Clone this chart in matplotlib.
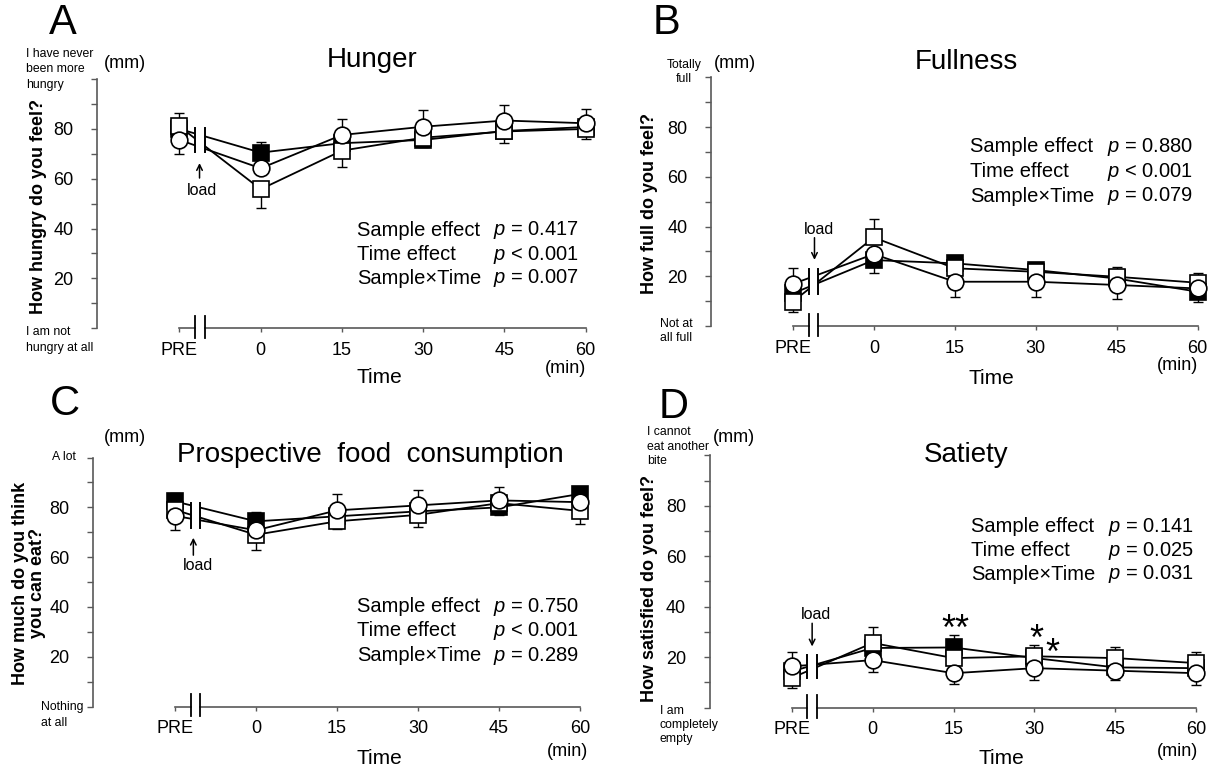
import numpy as np
import matplotlib
matplotlib.use("Agg")
import matplotlib.pyplot as plt
from matplotlib.patches import Rectangle

plt.rcParams['font.family'] = ['Liberation Sans', 'DejaVu Sans']
plt.rcParams['mathtext.fontset'] = 'custom'
plt.rcParams['mathtext.it'] = 'Liberation Sans:italic'
plt.rcParams['mathtext.rm'] = 'Liberation Sans'

# time points (PRE drawn one step before 0)
times = [-15, 0, 15, 30, 45, 60]
time_labels = ['PRE', '0', '15', '30', '45', '60']

# Hunger
hunger_open = [81, 55.8, 71.3, 76.5, 79, 80.0]
hunger_filled = [80, 70.5, 74.3, 75.6, 79.2, 80.8]
hunger_circle = [75.6, 64.2, 77.6, 80.9, 83.4, 82.3]
hunger_open_sd = [5.3, 7.7, 6.5, 5.0, 4.5, 4.2]
hunger_filled_sd = [5.0, 4.2, 6.0, 2.9, 5.0, 5.0]
hunger_circle_sd = [5.6, 6.0, 6.4, 6.7, 6.1, 5.8]
hunger_stats = ['= 0.417', '< 0.001', '= 0.007']

# Fullness
full_open = [9.8, 35.6, 23.2, 21.8, 19.8, 17.4]
full_filled = [13.1, 26.5, 25.2, 22.5, 19.1, 13.8]
full_circle = [16.9, 28.9, 17.8, 17.8, 16.5, 15.1]
full_open_sd = [4.0, 7.4, 4.0, 3.5, 4.0, 3.8]
full_filled_sd = [4.0, 5.3, 2.9, 2.7, 4.0, 4.0]
full_circle_sd = [6.5, 5.0, 6.0, 6.0, 5.7, 5.0]
full_stats = ['= 0.880', '< 0.001', '= 0.079']

# Prospective food consumption
pfc_open = [79, 69, 74.4, 77, 81.7, 78.6]
pfc_filled = [82.4, 74.4, 76.4, 78.4, 80, 85.4]
pfc_circle = [76.6, 70.8, 78.8, 80.8, 82.8, 82.1]
pfc_open_sd = [4.0, 6.2, 3.1, 4.9, 4.0, 5.3]
pfc_filled_sd = [3.3, 3.6, 4.0, 4.0, 3.0, 2.0]
pfc_circle_sd = [5.6, 5.0, 6.6, 6.0, 5.2, 5.0]
pfc_stats = ['= 0.750', '< 0.001', '= 0.289']

# Satiety
sat_open = [11.7, 25.6, 19.6, 20.3, 19.6, 17.6]
sat_filled = [14.3, 23.6, 23.8, 19.6, 15.9, 15.6]
sat_circle = [16.3, 18.8, 13.6, 15.6, 14.6, 13.6]
sat_open_sd = [4.0, 6.2, 4.0, 4.6, 4.2, 4.3]
sat_filled_sd = [4.0, 4.0, 4.8, 4.0, 4.0, 4.0]
sat_circle_sd = [5.6, 4.8, 4.3, 4.6, 3.6, 4.6]
sat_stats = ['= 0.141', '= 0.025', '= 0.031']
sat_signif = [(15.3, 30.5, '**'), (30.3, 26.5, '*'), (33.4, 21.2, '*')]

stat_names = ['Sample effect', 'Time effect', 'Sample×Time']

W, H = 1220, 771
GRAY = '#595959'
BREAK = (-12.1, -10.3)
SMALL = 8.8


def fx(x):
    return x / W


def fy(y):
    return 1 - y / H


fig = plt.figure(figsize=(12.2, 7.71), dpi=100)


def draw_panel(rect, series, sds, break_span, load_txt, load_arrow):
    ax = fig.add_axes(rect)
    vals = np.array(series)
    sd = np.array(sds)
    top = np.argmax(vals, axis=0)
    bot = np.argmin(vals, axis=0)
    t = np.array(times)

    # series order in lists: open square, filled square, circle
    styles = {1: dict(marker='s', ms=11, mfc='black', z=3),
              0: dict(marker='s', ms=11, mfc='white', z=4),
              2: dict(marker='o', ms=12, mfc='white', z=5)}
    for i in [1, 0, 2]:
        st = styles[i]
        up = np.where(top == i, sd[i], 0)
        lo = np.where(bot == i, sd[i], 0)
        m = (up > 0) | (lo > 0)
        if m.any():
            ax.errorbar(t[m], vals[i][m], yerr=[lo[m], up[m]], fmt='none',
                        ecolor='black', elinewidth=1, capsize=3.5, capthick=1,
                        zorder=2, clip_on=False)
        ax.plot(t, vals[i], color='black', lw=1.3, marker=st['marker'],
                ms=st['ms'], mfc=st['mfc'], mec='black', mew=1.2,
                zorder=st['z'], clip_on=False)

    # break in the data lines
    y0, y1 = break_span
    ax.add_patch(Rectangle((BREAK[0], y0), BREAK[1] - BREAK[0], y1 - y0,
                           facecolor='white', edgecolor='none', zorder=8))
    for bx in BREAK:
        ax.plot([bx, bx], [y0, y1], color='black', lw=1.4, zorder=9,
                clip_on=False)

    # x axis drawn by hand with a break
    ax.plot([-15, BREAK[0]], [0, 0], color=GRAY, lw=1.2, clip_on=False)
    ax.plot([BREAK[1], 60], [0, 0], color=GRAY, lw=1.2, clip_on=False)
    for bx in BREAK:
        ax.plot([bx, bx], [-4, 5], color='black', lw=1.3, clip_on=False)

    # load marker
    ax.text(load_txt[0], load_txt[1], 'load', ha='center', va='center',
            fontsize=11.5)
    ax.annotate('', xy=(load_arrow[0], load_arrow[2]),
                xytext=(load_arrow[0], load_arrow[1]),
                arrowprops=dict(arrowstyle='->', lw=1.1, color='black',
                                shrinkA=0, shrinkB=0))

    ax.set_xlim(-30.2, 63)
    ax.set_ylim(0, 100)
    for s in ['top', 'right', 'bottom']:
        ax.spines[s].set_visible(False)
    ax.spines['left'].set_color(GRAY)
    ax.spines['left'].set_linewidth(1.2)
    ax.set_yticks([0, 20, 40, 60, 80, 100], ['', '20', '40', '60', '80', ''])
    ax.set_yticks([10, 30, 50, 70, 90], minor=True)
    ax.tick_params(axis='y', which='both', direction='out', length=4,
                   width=1, color=GRAY, pad=13, labelsize=13)
    ax.set_xticks(times, time_labels)
    ax.tick_params(axis='x', direction='out', length=3, width=1, color=GRAY,
                   pad=7, labelsize=13)
    ax.patch.set_visible(False)
    return ax


def ptext(x, y, s, **kw):
    fig.text(fx(x), fy(y), s, **kw)


def anchor(x, y, s, ha='left', ls=1.3):
    ptext(x, y, s, ha=ha, va='center', fontsize=SMALL, linespacing=ls,
          multialignment=ha)


def stats_block(x_name, x_p, ys, values):
    for name, v, y in zip(stat_names, values, ys):
        ptext(x_name, y, name, ha='left', va='center', fontsize=14.5)
        ptext(x_p, y, '$p$ ' + v, ha='left', va='center', fontsize=14.5)


# Panel A
axA = draw_panel([fx(97.2), fy(328.1), (601.8 - 97.2) / W, (328.1 - 79.2) / H],
                 [hunger_open, hunger_filled, hunger_circle],
                 [hunger_open_sd, hunger_filled_sd, hunger_circle_sd],
                 (70.6, 80.3), (-10.9, 55.2), (-11.3, 60.3, 66.3))
ptext(63, 23, 'A', ha='center', va='center', fontsize=30)
ptext(372, 60, 'Hunger', ha='center', va='center', fontsize=20)
ptext(124.5, 63, '(mm)', ha='center', va='center', fontsize=13)
anchor(26.5, 69.5, 'I have never\nbeen more\nhungry', ls=1.4)
anchor(26.5, 340, 'I am not\nhungry at all', ls=1.45)
ptext(39, 207, 'How hungry do you feel?', ha='center', va='center',
      rotation=90, fontsize=13, fontweight='bold')
stats_block(357, 493, [230, 255, 278], hunger_stats)
ptext(379, 377, 'Time', ha='center', va='center', fontsize=15)
ptext(566, 368, '(min)', ha='center', va='center', fontsize=13)

# Panel B
axB = draw_panel([fx(710.9), fy(326.0), (1213.7 - 710.9) / W, (326.0 - 77.3) / H],
                 [full_open, full_filled, full_circle],
                 [full_open_sd, full_filled_sd, full_circle_sd],
                 (12.9, 22.8), (-10.1, 38.7), (-11.0, 35.5, 26.6))
ptext(666, 23, 'B', ha='center', va='center', fontsize=30)
ptext(966, 62, 'Fullness', ha='center', va='center', fontsize=20)
ptext(734.5, 63, '(mm)', ha='center', va='center', fontsize=13)
anchor(684, 72, 'Totally\nfull', ha='center', ls=1.2)
anchor(676, 331, 'Not at\nall full', ha='center', ls=1.3)
ptext(649, 204, 'How full do you feel?', ha='center', va='center',
      rotation=90, fontsize=13, fontweight='bold')
stats_block(970, 1107, [146.7, 171.7, 196], full_stats)
ptext(991, 378, 'Time', ha='center', va='center', fontsize=15)
ptext(1178, 365, '(min)', ha='center', va='center', fontsize=13)

# Panel C
axC = draw_panel([fx(92.9), fy(706.5), (596.2 - 92.9) / W, (706.5 - 457.6) / H],
                 [pfc_open, pfc_filled, pfc_circle],
                 [pfc_open_sd, pfc_filled_sd, pfc_circle_sd],
                 (71.7, 81.7), (-10.7, 56.8), (-11.6, 60.8, 67.8))
ptext(65, 404, 'C', ha='center', va='center', fontsize=30)
ptext(370, 455, 'Prospective  food  consumption', ha='center', va='center',
      fontsize=20)
ptext(124.5, 438, '(mm)', ha='center', va='center', fontsize=13)
anchor(64, 457, 'A lot', ha='center')
anchor(41, 715, 'Nothing\nat all', ls=1.45)
ptext(29, 583, 'How much do you think\nyou can eat?', ha='center',
      va='center', rotation=90, fontsize=13, fontweight='bold',
      linespacing=0.95)
stats_block(357, 493, [606.7, 631, 655.7], pfc_stats)
ptext(379, 758, 'Time', ha='center', va='center', fontsize=15)
ptext(568, 751, '(min)', ha='center', va='center', fontsize=13)

# Panel D
axD = draw_panel([fx(709.6), fy(707.5), (1212.6 - 709.6) / W, (707.5 - 455.3) / H],
                 [sat_open, sat_filled, sat_circle],
                 [sat_open_sd, sat_filled_sd, sat_circle_sd],
                 (11.7, 20.9), (-10.4, 36.7), (-11.2, 33.4, 24.2))
for x, y, s in sat_signif:
    axD.text(x, y, s, ha='center', va='center', fontsize=26)
ptext(674, 407, 'D', ha='center', va='center', fontsize=30)
ptext(966, 455, 'Satiety', ha='center', va='center', fontsize=20)
ptext(733.7, 438, '(mm)', ha='center', va='center', fontsize=13)
anchor(647, 61.5 + 385, 'I cannot\neat another\nbite', ls=1.25)
anchor(660, 725, 'I am\ncompletely\nempty', ls=1.25)
ptext(649, 589, 'How satisfied do you feel?', ha='center', va='center',
      rotation=90, fontsize=13, fontweight='bold')
stats_block(971, 1108, [526.7, 550.7, 574.3], sat_stats)
ptext(1001, 758, 'Time', ha='center', va='center', fontsize=15)
ptext(1178, 752, '(min)', ha='center', va='center', fontsize=13)

fig.savefig('out.png', dpi=100)
